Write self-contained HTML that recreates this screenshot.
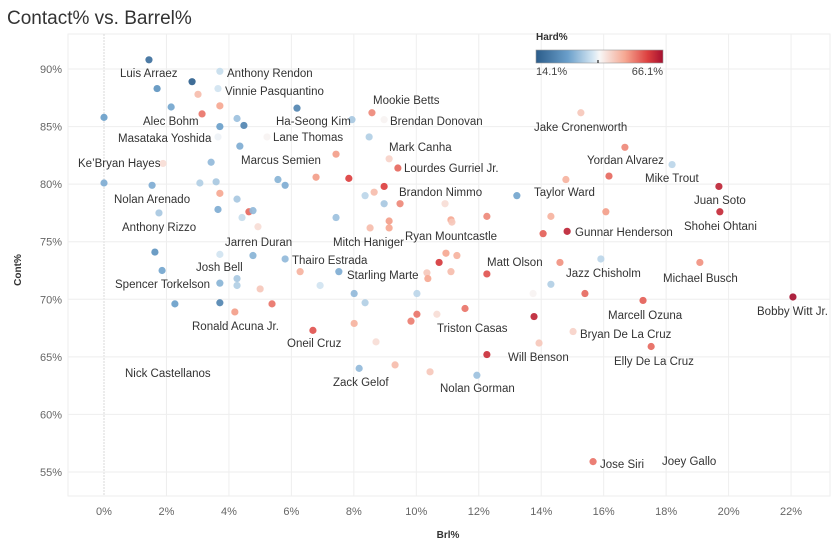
<!DOCTYPE html>
<html><head><meta charset="utf-8"><style>
body{margin:0;background:#fff;width:837px;height:551px;overflow:hidden;font-family:"Liberation Sans",sans-serif}
svg text{font-family:"Liberation Sans",sans-serif}
</style></head><body>
<svg id="chart" width="837" height="551" xmlns="http://www.w3.org/2000/svg">
<defs><linearGradient id="lg" x1="0" x2="1">
<stop offset="0" stop-color="#2b5c8a"/><stop offset="0.25" stop-color="#6a9fca"/><stop offset="0.45" stop-color="#d6e7f3"/><stop offset="0.5" stop-color="#f7f7f7"/><stop offset="0.7" stop-color="#f6a892"/><stop offset="0.88" stop-color="#dc3f3f"/><stop offset="1" stop-color="#a50f2f"/></linearGradient></defs>
<text x="7" y="24" font-size="19" fill="#333">Contact% vs. Barrel%</text>
<g id="grid"></g><g id="pts"></g><g id="lbls"></g>
<text x="448" y="538" font-size="10" font-weight="bold" fill="#333" text-anchor="middle">Brl%</text>
<text transform="translate(21,270) rotate(-90)" font-size="10" font-weight="bold" fill="#333" text-anchor="middle">Cont%</text>
<g>
<text x="536" y="40" font-size="10" font-weight="bold" fill="#333">Hard%</text>
<rect x="536" y="50" width="127" height="13" fill="url(#lg)" stroke="#999" stroke-width="0.6"/>
<line x1="598" y1="60" x2="598" y2="63" stroke="#000"/>
<text x="536" y="75" font-size="11" fill="#444">14.1%</text>
<text x="663" y="75" font-size="11" fill="#444" text-anchor="end">66.1%</text>
</g>
</svg>
<script>
const brl=[1.44,2.82,1.70,3.01,3.71,3.65,2.15,3.71,3.14,0,4.26,4.48,3.71,6.18,7.94,3.65,4.35,5.22,3.43,1.89,0,1.54,3.07,3.59,3.71,5.57,5.80,6.79,7.84,4.26,3.65,4.64,4.77,1.76,4.42,4.93,7.43,8.58,8.97,8.49,7.43,9.13,9.41,8.97,8.65,8.36,8.97,9.48,10.92,13.22,15.27,16.68,18.19,14.79,16.17,12.26,14.31,16.07,11.11,8.52,9.13,14.06,14.83,19.69,19.72,1.63,3.71,4.77,5.80,1.86,6.28,7.52,4.26,3.71,4.26,5.00,6.92,2.27,3.71,4.19,5.38,8.01,8.36,8.01,6.69,8.71,8.17,9.32,9.13,11.14,10.95,11.30,10.73,10.34,11.11,10.37,12.26,14.60,15.91,14.31,10.02,13.74,15.40,17.26,19.08,22.06,10.02,9.83,10.66,11.56,13.77,15.02,13.93,17.52,12.26,10.44,11.94,15.66];
const cont=[90.8,88.9,88.3,87.8,89.8,88.3,86.7,86.8,86.1,85.8,85.7,85.1,85.0,86.6,85.6,84.1,83.3,84.1,81.9,81.8,80.1,79.9,80.1,80.2,79.2,80.4,79.9,80.6,80.5,78.7,77.8,77.6,77.7,77.5,77.1,76.3,77.1,86.2,85.6,84.1,82.6,82.2,81.4,79.8,79.3,79.0,78.3,78.3,78.3,79.0,86.2,83.2,81.7,80.4,80.7,77.2,77.2,77.6,76.9,76.2,76.2,75.7,75.9,79.8,77.6,74.1,73.9,73.8,73.5,72.5,72.4,72.4,71.8,71.4,71.2,70.9,71.2,69.6,69.7,68.9,69.6,70.5,69.7,67.9,67.3,66.3,64.0,64.3,76.8,76.7,74.0,73.8,73.2,72.3,72.4,71.8,72.2,73.2,73.5,71.3,70.5,70.5,70.5,69.9,73.2,70.2,68.7,68.1,68.7,69.2,68.5,67.2,66.2,65.9,65.2,63.7,63.4,55.9];
const hard=[18,15,25,45,36,37,28,47,52,27,32,22,27,22,33,39,29,40,31,42,29,29,34,33,47,30,29,48,57,33,29,53,31,33,36,42,32,50,40,34,48,43,53,57,45,35,33,50,42,28,44,50,35,46,53,50,46,48,47,45,47,54,62,62,61,25,37,30,31,28,46,29,33,30,34,44,37,27,22,48,52,31,34,46,55,42,31,45,48,44,47,46,58,44,45,47,55,49,35,34,35,40,53,54,49,66,52,51,42,52,62,43,44,53,60,44,32,52];
const xTicks=[0,2,4,6,8,10,12,14,16,18,20,22];
const yTicks=[55,60,65,70,75,80,85,90];
const labelNames=["Luis Arraez","Anthony Rendon","Vinnie Pasquantino","Mookie Betts","Alec Bohm","Ha-Seong Kim","Brendan Donovan","Masataka Yoshida","Lane Thomas","Jake Cronenworth","Mark Canha","Marcus Semien","Lourdes Gurriel Jr.","Yordan Alvarez","Ke’Bryan Hayes","Mike Trout","Brandon Nimmo","Taylor Ward","Nolan Arenado","Juan Soto","Anthony Rizzo","Shohei Ohtani","Ryan Mountcastle","Gunnar Henderson","Mitch Haniger","Jarren Duran","Thairo Estrada","Josh Bell","Matt Olson","Starling Marte","Jazz Chisholm","Michael Busch","Spencer Torkelson","Bobby Witt Jr.","Marcell Ozuna","Ronald Acuna Jr.","Triston Casas","Bryan De La Cruz","Oneil Cruz","Will Benson","Elly De La Cruz","Nick Castellanos","Zack Gelof","Nolan Gorman","Jose Siri","Joey Gallo"];
const labelPos=[[120,77],[227,77],[225,95],[373,104],[143,125],[276,125],[390,125],[118,142],[273,141],[534,131],[389,151],[241,164],[404,172],[587,164],[78,167],[645,182],[399,196],[534,196],[114,203],[694,204],[122,231],[684,230],[405,240],[575,236],[333,246],[225,246],[292,264],[196,271],[487,266],[347,279],[566,277],[663,282],[115,288],[757,315],[608,319],[192,330],[437,332],[580,338],[287,347],[508,361],[614,365],[125,377],[333,386],[440,392],[600,468],[662,465]];
const X=v=>104+v*31.23, Y=v=>69+(90-v)*11.514;
const NS="http://www.w3.org/2000/svg";
function mk(t,a,p){const e=document.createElementNS(NS,t);for(const k in a)e.setAttribute(k,a[k]);p.appendChild(e);return e;}
const g=document.getElementById('grid');
const frame=mk('rect',{x:68,y:34,width:762,height:462,fill:'none',stroke:'#eee'},g);


xTicks.forEach(t=>{const l=mk('line',{x1:X(t),x2:X(t),y1:34,y2:496,stroke:t===0?'#d8d8d8':'#eee','stroke-dasharray':t===0?'2,1':''},g);


const tx=mk('text',{x:X(t),y:515,'font-size':11,fill:'#666','text-anchor':'middle'},g);tx.textContent=t+'%';

});
yTicks.forEach(t=>{const l=mk('line',{x1:68,x2:830,y1:Y(t),y2:Y(t),stroke:'#eee'},g);


const tx=mk('text',{x:62,y:Y(t)+4,'font-size':11,fill:'#666','text-anchor':'end'},g);tx.textContent=t+'%';

});
const stops=[[14.1,[43,92,138]],[27,[106,159,202]],[37.5,[214,231,243]],[39.6,[247,247,247]],[47,[246,168,146]],[57,[220,63,63]],[66.1,[165,15,47]]];
function col(h){for(let i=0;i<stops.length-1;i++){const[a,ca]=stops[i],[b,cb]=stops[i+1];if(h<=b||i===stops.length-2){let f=Math.max(0,Math.min(1,(h-a)/(b-a)));return 'rgb('+ca.map((c,j)=>Math.round(c+(cb[j]-c)*f)).join(',')+')';}}}
const p=document.getElementById('pts');
brl.forEach((b,i)=>{const c=mk('circle',{cx:X(b),cy:Y(cont[i]),r:3.6,fill:col(hard[i]),'fill-opacity':0.92},p);

});
const lg=document.getElementById('lbls');
labelNames.forEach((n,i)=>{const t=mk('text',{x:labelPos[i][0],y:labelPos[i][1],'font-size':11.5,fill:'#333'},lg);t.textContent=n;

});
</script>
</body></html>
